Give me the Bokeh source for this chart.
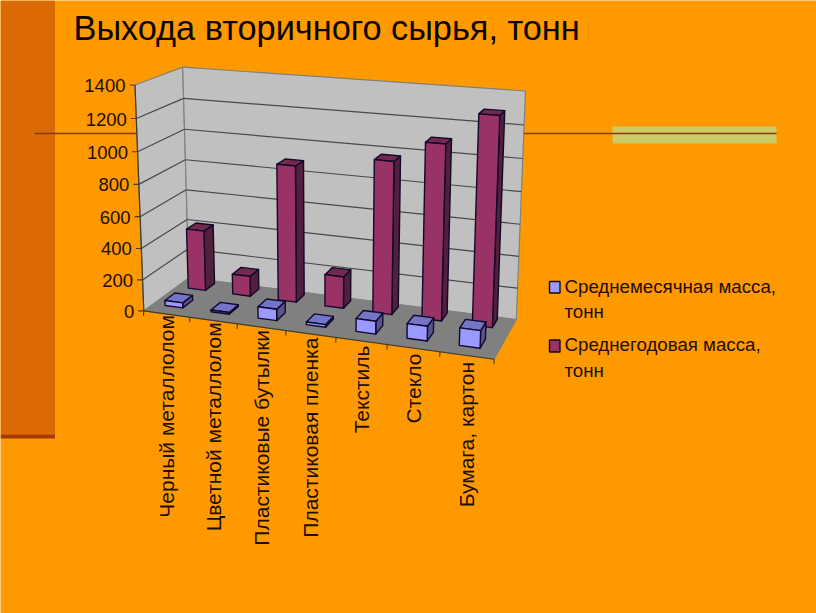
import numpy as np
from bokeh.plotting import figure
from bokeh.models import Range1d
from bokeh.core.properties import value
from bokeh.embed import file_html
from bokeh.resources import INLINE

# ---- data ----
categories = ["Черный металлолом", "Цветной металлолом", "Пластиковые бутылки",
              "Пластиковая пленка", "Текстиль", "Стекло", "Бумага, картон"]
monthly = [33, 11, 73, 17, 80, 91, 107]
annual = [396, 132, 876, 204, 960, 1092, 1284]
value_ticks = [0, 200, 400, 600, 800, 1000, 1200, 1400]
series_names = [["Среднемесячная масса,", "тонн"], ["Среднегодовая масса,", "тонн"]]
title_text = "Выхода вторичного сырья, тонн"

# ---- view calibration: scene anchors (cat, value, depth) -> page pixels ----
anchors = [
    (0, 0, 0, 143.3, 309), (1, 0, 0, 190, 317), (2, 0, 0, 237, 323.5), (3, 0, 0, 285.7, 330),
    (4, 0, 0, 335.5, 337.5), (5, 0, 0, 386.7, 345), (6, 0, 0, 439.3, 351.7), (7, 0, 0, 493.3, 358.3),
    (0, 1400, 0, 134.3, 84), (0, 0, 1, 188, 278), (0, 1400, 1, 182.3, 67.3),
    (0, 700, 1, 185.2, 174), (7, 0, 1, 516, 318.3), (7, 1400, 1, 525, 90.7), (7, 700, 1, 520.5, 207),
]
A = []
for cx, v, d, u, w in anchors:
    w3 = [cx / 7, v / 1400, d, 1]
    u, w = u / 500, w / 500
    A.append(w3 + [0, 0, 0, 0] + [-u * t for t in w3])
    A.append([0, 0, 0, 0] + w3 + [-w * t for t in w3])
P = np.linalg.svd(np.array(A))[2][-1].reshape(3, 4)


def proj(cx, v, d):
    h = P @ np.array([cx / 7, v / 1400, d, 1.0])
    return float(h[0] / h[2] * 500), float(h[1] / h[2] * 500)


ORANGE = "#FF9900"
TXT = "#1C0E00"
FONT = value("Liberation Sans")

p = figure(width=816, height=613, x_range=Range1d(0, 816), y_range=Range1d(613, 0),
           output_backend="svg", toolbar_location=None,
           x_axis_location=None, y_axis_location=None, min_border=0,
           background_fill_color=ORANGE, border_fill_color=ORANGE, outline_line_color=None)
p.grid.visible = False

# slide decoration
p.quad(left=[0], right=[54.5], top=[0], bottom=[434], fill_color="#DB6A05", line_color=None)
p.quad(left=[0], right=[54.5], top=[434], bottom=[438], fill_color="#A63A0C", line_color=None)
p.quad(left=[612], right=[776], top=[126], bottom=[143], fill_color="#CCCC66", line_color=None)
p.line([34, 776], [133, 133], line_color="#8A3A10", line_width=1.3)


def face(pts, fill, line=None, lw=1.0):
    p.patch([q[0] for q in pts], [q[1] for q in pts], fill_color=fill, line_color=line or fill,
            line_width=lw, line_join="round")


def seg(a, b, color, lw=1.0):
    p.line([a[0], b[0]], [a[1], b[1]], line_color=color, line_width=lw)


# walls and floor
top = value_ticks[-1]
face([proj(0, 0, 0), proj(0, top, 0), proj(0, top, 1), proj(0, 0, 1)], "#C0C0C0", "#808080", 1.2)
face([proj(0, 0, 1), proj(0, top, 1), proj(7, top, 1), proj(7, 0, 1)], "#C0C0C0", "#808080", 1.2)
face([proj(0, 0, 0), proj(0, 0, 1), proj(7, 0, 1), proj(7, 0, 0)], "#808080", "#808080", 1.0)

for v in value_ticks[1:-1]:
    seg(proj(0, v, 0), proj(0, v, 1), "#484848", 1.2)
    seg(proj(0, v, 1), proj(7, v, 1), "#484848", 1.2)

# axes, ticks and tick labels
seg(proj(0, 0, 0), proj(0, top, 0), "#3A3A3A", 1.2)
seg(proj(0, 0, 0), proj(7, 0, 0), "#4A3A20", 1.2)
lab_x, lab_y, lab_t = [], [], []
for v in value_ticks:
    x, y = proj(0, v, 0)
    seg((x - 5.5, y), (x, y), "#4A3A20", 1.1)
    lab_x.append(x - 9.5)
    lab_y.append(y + 0.5)
    lab_t.append(str(v))
p.text(lab_x, lab_y, text=lab_t, text_font=FONT, text_font_size="18.5px", text_color=TXT,
       text_align="right", text_baseline="middle")

cat_x, cat_y = [], []
for i, name in enumerate(categories):
    a = proj(i, 0, 0)
    seg(a, (a[0] - 0.3, a[1] + 5), "#4A3A20", 1.1)
    if i == len(categories) - 1:
        b = proj(7, 0, 0)
        seg(b, (b[0] - 0.3, b[1] + 5), "#4A3A20", 1.1)
    m = proj(i + 0.5, 0, 0)
    cat_x.append(m[0])
    cat_y.append(m[1] + 1 + 0.9 * i)
p.text(cat_x, cat_y, text=categories, angle=np.pi / 2, text_font=FONT, text_font_size="21px",
       text_color=TXT, text_align="right", text_baseline="middle")


# bars: two rows in depth, each category 1 wide
def bar(i, val, d0, d1, cols):
    x0, x1 = i + 0.26, i + 0.65
    edge = "#12082A"
    face([proj(x1, 0, d0), proj(x1, val, d0), proj(x1, val, d1), proj(x1, 0, d1)], cols[2], edge, 1.4)
    face([proj(x0, val, d0), proj(x1, val, d0), proj(x1, val, d1), proj(x0, val, d1)], cols[1], edge, 1.4)
    face([proj(x0, 0, d0), proj(x1, 0, d0), proj(x1, val, d0), proj(x0, val, d0)], cols[0], edge, 1.4)


RED = ("#993366", "#742A4F", "#52203C")
BLUE = ("#9999FF", "#7474C8", "#56568F")
for i, val in enumerate(annual):
    bar(i, val, 0.72, 0.94, RED)
for i, val in enumerate(monthly):
    bar(i, val, 0.2, 0.42, BLUE)

# legend
leg_y = [(281, 292.5), (339.5, 351.5)]
leg_cols = [BLUE[0], RED[0]]
leg_tx, leg_ty, leg_t = [], [], []
text_rows = [(286, 311), (344, 370)]
for (y0, y1), col, names, rows in zip(leg_y, leg_cols, series_names, text_rows):
    p.quad(left=[549], right=[559.5], top=[y0], bottom=[y1], fill_color=col,
           line_color="#1A0A10", line_width=1.4)
    for nm, r in zip(names, rows):
        leg_tx.append(564)
        leg_ty.append(r)
        leg_t.append(nm)
p.text(leg_tx, leg_ty, text=leg_t, text_font=FONT, text_font_size="18.7px", text_color=TXT,
       text_align="left", text_baseline="middle")

# title
p.text([73], [27], text=[title_text], text_font=FONT, text_font_size="34.3px", text_color="#0A0500",
       text_align="left", text_baseline="alphabetic")

open("out.html", "w").write(file_html(p, INLINE))
